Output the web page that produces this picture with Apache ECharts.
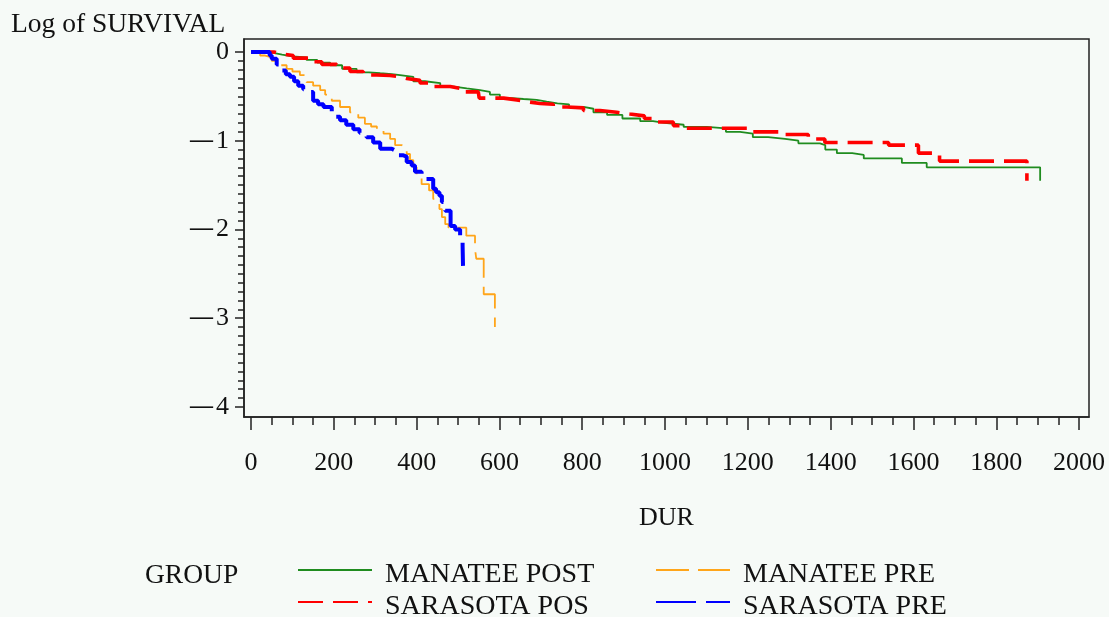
<!DOCTYPE html>
<html>
<head>
<meta charset="utf-8">
<script src="https://cdn.jsdelivr.net/npm/echarts@6/dist/echarts.min.js"></script>
<style>
  html, body { margin: 0; padding: 0; background: #f6faf7; }
  #chart { width: 1109px; height: 617px; }
</style>
</head>
<body>
<div id="chart"></div>
<script>
// Log-survival step curves by group (duration in days)
const groups = ['MANATEE POST', 'MANATEE PRE', 'SARASOTA POS', 'SARASOTA PRE'];

const manateePost = [
  [0, 0], [20, 0], [35, -0.01], [54, -0.03], [75, -0.05], [100, -0.06], [134, -0.09],
  [160, -0.12], [191, -0.15], [220, -0.19], [255, -0.23], [285, -0.24], [312, -0.25],
  [340, -0.26], [360, -0.28], [392, -0.33], [420, -0.35], [457, -0.39], [490, -0.41],
  [521, -0.43], [553, -0.45], [577, -0.48], [601, -0.52], [630, -0.53], [658, -0.54],
  [690, -0.56], [714, -0.58], [740, -0.59], [768, -0.62], [803, -0.64], [827, -0.68],
  [860, -0.71], [897, -0.75], [940, -0.78], [971, -0.80], [999, -0.82], [1045, -0.845],
  [1101, -0.86], [1147, -0.90], [1181, -0.92], [1212, -0.96], [1249, -0.98], [1290, -1.00],
  [1322, -1.03], [1374, -1.05], [1387, -1.10], [1415, -1.14], [1452, -1.16], [1480, -1.20],
  [1572, -1.25], [1632, -1.30], [1906, -1.45]
];

const manateePre = [
  [0, 0], [22, -0.04], [34, -0.06], [50, -0.10], [70, -0.15], [86, -0.19], [100, -0.22],
  [118, -0.26], [134, -0.34], [150, -0.38], [167, -0.43], [179, -0.48], [195, -0.55],
  [215, -0.62], [239, -0.68], [259, -0.74], [275, -0.81], [290, -0.84], [304, -0.87],
  [320, -0.92], [336, -0.98], [348, -1.05], [364, -1.07], [376, -1.15], [384, -1.22],
  [392, -1.30], [400, -1.38], [412, -1.49], [430, -1.56], [440, -1.65], [444, -1.69],
  [455, -1.77], [461, -1.86], [469, -1.94], [477, -1.98], [520, -2.07], [541, -2.22],
  [544, -2.33], [562, -2.73], [589, -3.10]
];

const sarasotaPos = [
  [0, 0], [42, 0], [55, -0.02], [70, -0.04], [102, -0.07], [142, -0.11], [171, -0.14],
  [207, -0.18], [239, -0.22], [271, -0.26], [304, -0.265], [336, -0.28], [360, -0.30],
  [376, -0.32], [408, -0.35], [440, -0.39], [481, -0.41], [505, -0.45], [549, -0.47],
  [551, -0.52], [610, -0.54], [642, -0.56], [666, -0.58], [698, -0.59], [730, -0.62],
  [763, -0.63], [803, -0.66], [843, -0.68], [883, -0.70], [915, -0.72], [950, -0.75],
  [980, -0.79], [1020, -0.83], [1044, -0.86], [1201, -0.90], [1278, -0.93], [1346, -0.98],
  [1386, -1.02], [1540, -1.05], [1612, -1.14], [1663, -1.23], [1874, -1.45]
];

const sarasotaPre = [
  [0, 0], [38, 0], [45, -0.04], [50, -0.076], [62, -0.14], [74, -0.21], [84, -0.25],
  [94, -0.28], [104, -0.33], [114, -0.38], [126, -0.42], [138, -0.45], [150, -0.55],
  [162, -0.59], [175, -0.62], [195, -0.70], [205, -0.73], [215, -0.77], [230, -0.82],
  [247, -0.87], [262, -0.91], [279, -0.96], [295, -1.02], [312, -1.09], [340, -1.11],
  [348, -1.165], [368, -1.18], [376, -1.24], [388, -1.28], [396, -1.35], [412, -1.39],
  [420, -1.43], [440, -1.54], [447, -1.58], [455, -1.62], [461, -1.69], [469, -1.79],
  [482, -1.96], [493, -2.00], [505, -2.13], [511, -2.18], [512, -2.41]
];

const xTickValues = [0, 200, 400, 600, 800, 1000, 1200, 1400, 1600, 1800, 2000];
const yTickValues = [0, -1, -2, -3, -4];

const FONT = 'Liberation Serif';
const INK = '#111';

// minor ticks: every 50 days on x, every 0.1 on y
const xMinor = [];
for (let v = 0; v <= 2000; v += 50) xMinor.push(v);
const yMinor = [];
for (let i = 0; i <= 40; i++) yMinor.push(-i / 10);

const chart = echarts.init(document.getElementById('chart'), null, { renderer: 'canvas' });

// one legend block per group so the two columns line up
function legendAt(name, left, top) {
  return {
    data: [name], left: left, top: top, orient: 'horizontal',
    selectedMode: false, itemWidth: 74, itemHeight: 14, padding: 0,
    itemStyle: { opacity: 0 },
    formatter: n => '{t|' + n + '}',
    textStyle: {
      fontFamily: FONT, fontSize: 28, color: INK,
      rich: { t: { fontFamily: FONT, fontSize: 28, color: INK, padding: [10, 0, 0, 8] } }
    }
  };
}

chart.setOption({
  backgroundColor: '#f6faf7',
  animation: false,
  title: [
    { text: 'Log of SURVIVAL', left: 11, top: 11, padding: 0,
      textStyle: { fontFamily: FONT, fontSize: 27.5, fontWeight: 'normal', color: INK } },
    { text: 'GROUP', left: 145, top: 562, padding: 0,
      textStyle: { fontFamily: FONT, fontSize: 27.5, fontWeight: 'normal', color: INK } }
  ],
  legend: [
    legendAt('MANATEE POST', 297, 561),
    legendAt('MANATEE PRE', 655, 561),
    legendAt('SARASOTA POS', 297, 593),
    legendAt('SARASOTA PRE', 655, 593)
  ],
  grid: {
    left: 244, top: 39, right: 20, bottom: 200,
    show: true, borderColor: '#222', borderWidth: 1.5, backgroundColor: 'transparent'
  },
  xAxis: [
    {
      type: 'value', min: -17, max: 2024, position: 'bottom',
      name: 'DUR', nameLocation: 'middle', nameGap: 88,
      nameTextStyle: { fontFamily: FONT, fontSize: 26, color: INK },
      axisLine: { show: true, onZero: false, lineStyle: { color: '#222', width: 1.5 } },
      axisTick: { show: true, length: 13, customValues: xTickValues, lineStyle: { color: '#222', width: 1.5 } },
      axisLabel: { customValues: xTickValues, margin: 33, fontFamily: FONT, fontSize: 26, color: INK,
        formatter: v => String(v) },
      splitLine: { show: false }
    },
    {
      type: 'value', min: -17, max: 2024, position: 'bottom',
      axisLine: { show: false, onZero: false },
      axisTick: { show: true, length: 8, customValues: xMinor, lineStyle: { color: '#222', width: 1.5 } },
      axisLabel: { show: false },
      splitLine: { show: false }
    }
  ],
  yAxis: [
    {
      type: 'value', min: -4.113, max: 0.146, position: 'left',
      axisLine: { show: true, onZero: false, lineStyle: { color: '#222', width: 1.5 } },
      axisTick: { show: true, length: 9, customValues: yTickValues, lineStyle: { color: '#222', width: 1.5 } },
      axisLabel: {
        customValues: yTickValues, margin: 15, fontFamily: FONT, fontSize: 26, color: INK,
        formatter: v => (v === 0 ? '0' : '{d|—}' + Math.abs(v)),
        rich: { d: { fontFamily: FONT, fontSize: 23, fontWeight: 'bold', color: INK, padding: [0, 3, 0, 0] } }
      },
      splitLine: { show: false }
    },
    {
      type: 'value', min: -4.113, max: 0.146, position: 'left',
      axisLine: { show: false, onZero: false },
      axisTick: { show: true, length: 6, customValues: yMinor, lineStyle: { color: '#222', width: 1.5 } },
      axisLabel: { show: false },
      splitLine: { show: false }
    }
  ],
  series: [
    { name: groups[0], type: 'line', step: 'end', symbol: 'none', data: manateePost,
      color: '#1f8c1f', lineStyle: { color: '#1f8c1f', width: 1.8, type: 'solid' } },
    { name: groups[1], type: 'line', step: 'end', symbol: 'none', data: manateePre,
      color: '#ffa51a', lineStyle: { color: '#ffa51a', width: 1.8, type: [33, 9] } },
    { name: groups[2], type: 'line', step: 'end', symbol: 'none', data: sarasotaPos,
      color: '#ff0000', lineStyle: { color: '#ff0000', width: 3.6, type: [25, 10] } },
    { name: groups[3], type: 'line', step: 'end', symbol: 'none', data: sarasotaPre,
      color: '#0000ff', lineStyle: { color: '#0000ff', width: 4, type: [40, 10] } }
  ]
});
</script>
</body>
</html>
